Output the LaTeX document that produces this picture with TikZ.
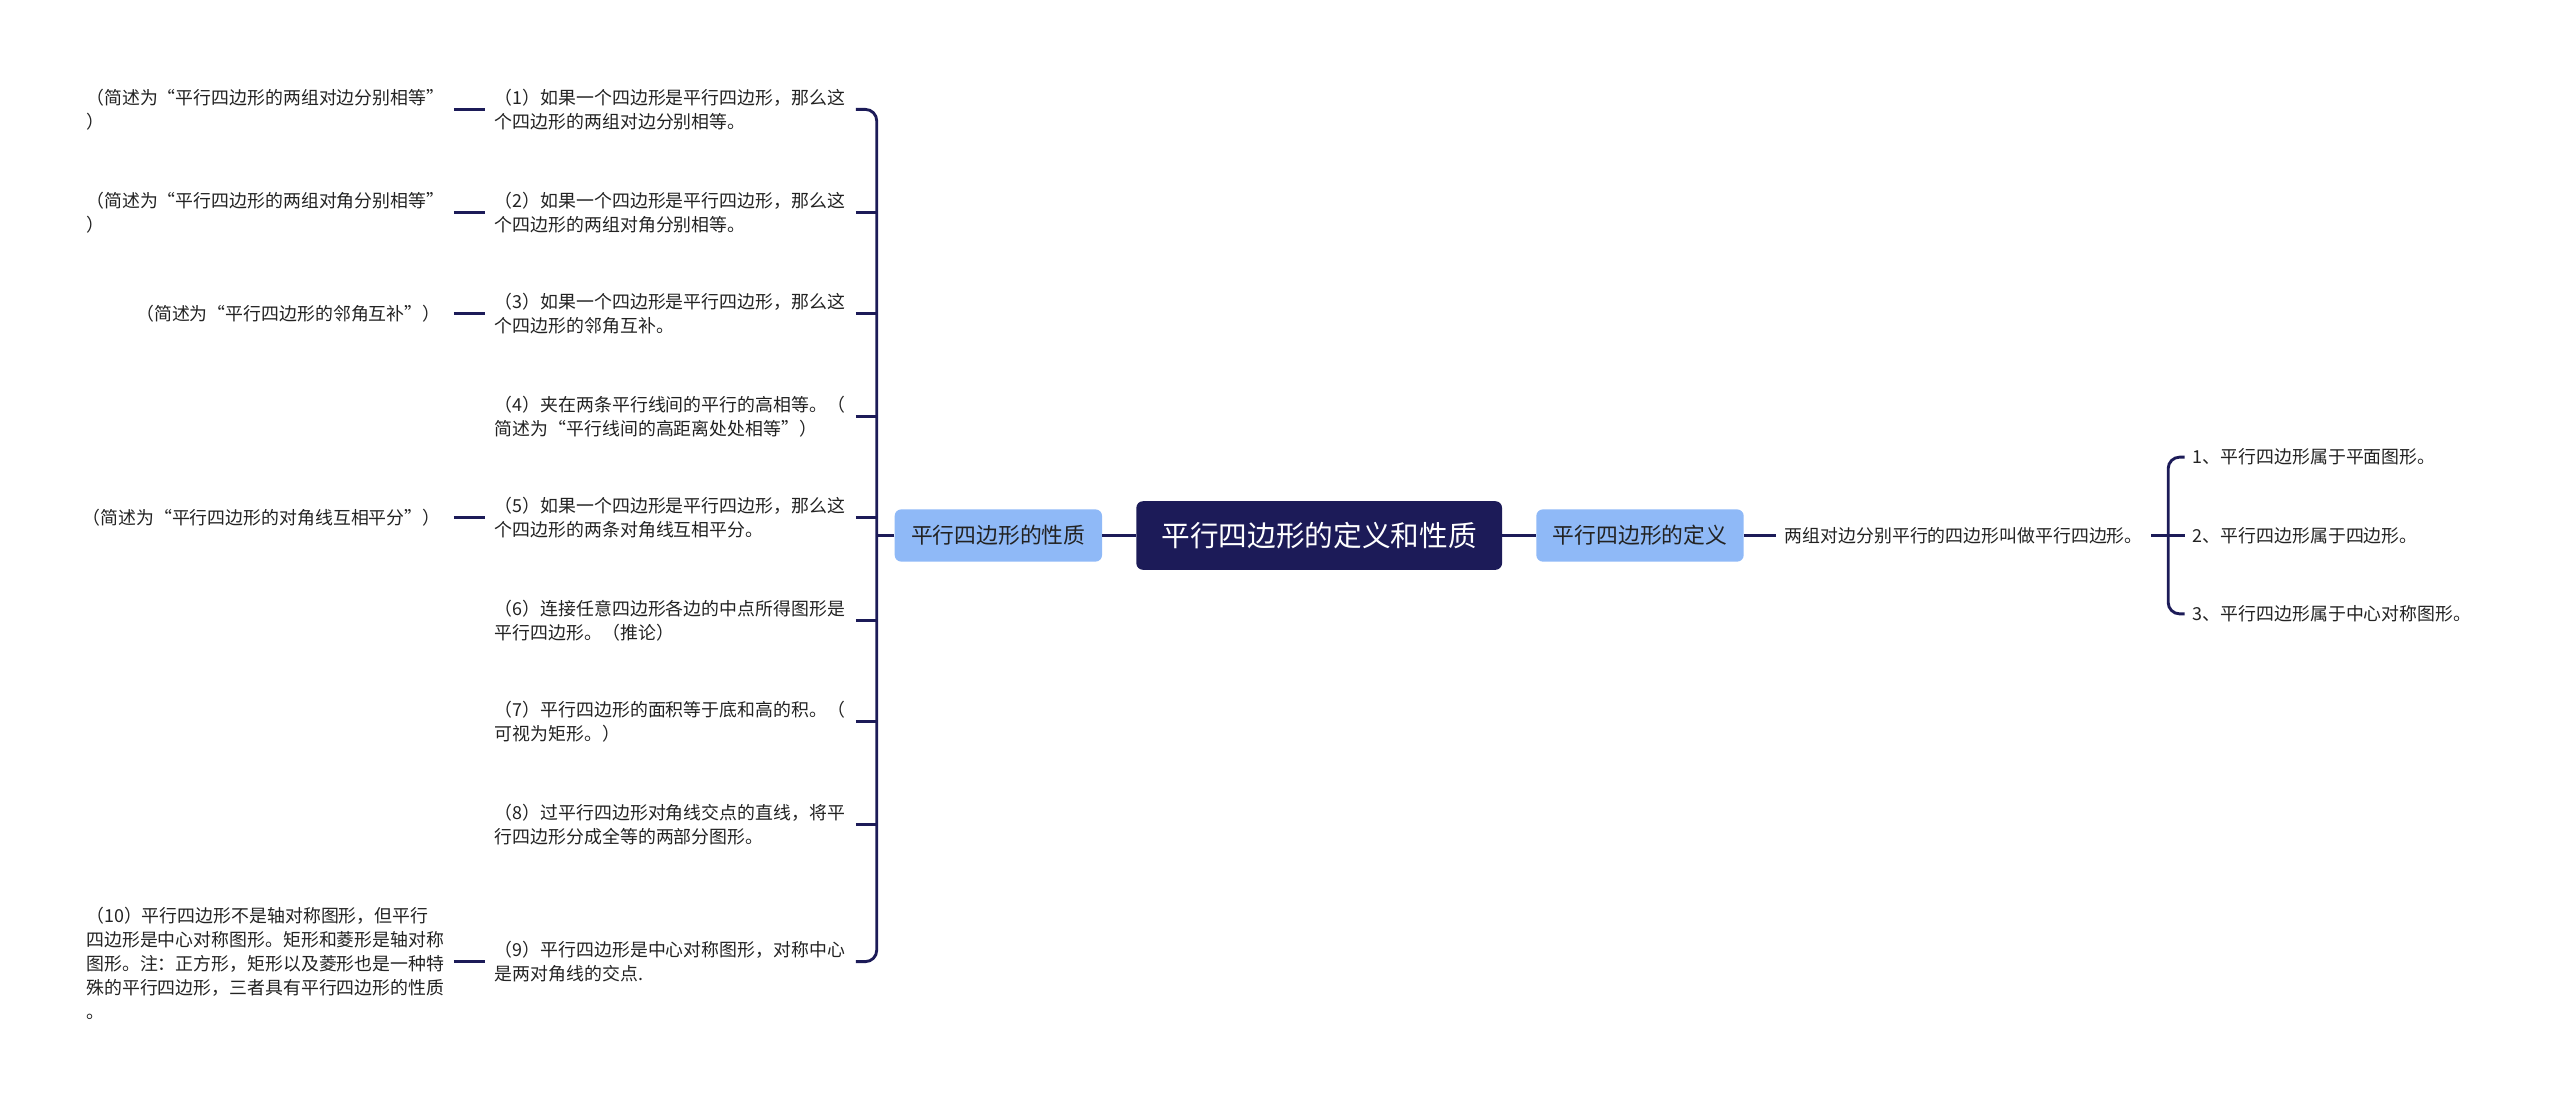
\documentclass[tikz,border=0pt]{standalone}
\usepackage{fontspec}
\setmainfont{Noto Sans CJK SC}
\definecolor{navy}{HTML}{1C1B58}
\definecolor{lblue}{HTML}{8FB9F7}
\definecolor{txt}{HTML}{222222}
\tikzset{
  ln/.style={draw=navy,line width=2.5pt},
  txtnode/.style={font=\fontsize{15.6pt}{21pt}\selectfont,text=txt,inner ysep=2pt},
  item/.style={txtnode,anchor=west,align=left,text width=10.75cm,inner xsep=0.3cm},
  sub/.style={txtnode,anchor=east,align=left,inner xsep=0.4cm},
  subw/.style={txtnode,anchor=east,align=left,text width=10.85cm,inner xsep=0.4cm},
  rt/.style={txtnode,anchor=west,align=left,inner xsep=0.25cm},
  child/.style={fill=lblue,rounded corners=0.2cm,minimum width=6.35cm,minimum height=1.6cm,font=\fontsize{19pt}{22pt}\selectfont,text=txt,inner sep=0pt},
}
\begin{document}
\begin{tikzpicture}[x=0.05cm,y=-0.05cm]
\useasboundingbox (0,0) rectangle (1568,677);
\node[fill=navy,rounded corners=0.2cm,minimum width=11.2cm,minimum height=2.1cm,text=white,font=\fontsize{25pt}{28pt}\selectfont,inner sep=0pt] (C) at (808,328) {平行四边形的定义和性质};
\node[child] (L) at (611.5,328) {平行四边形的性质};
\node[child] (R) at (1004.5,328) {平行四边形的定义};
\draw[ln] (L) -- (C); \draw[ln] (C) -- (R);
% left items
\node[item] (i1) at (297,67) {（1）如果一个四边形是平行四边形，那么这\\个四边形的两组对边分别相等。};
\node[item] (i2) at (297,130) {（2）如果一个四边形是平行四边形，那么这\\个四边形的两组对角分别相等。};
\node[item] (i3) at (297,192) {（3）如果一个四边形是平行四边形，那么这\\个四边形的邻角互补。};
\node[item] (i4) at (297,255) {（4）夹在两条平行线间的平行的高相等。（\\简述为“平行线间的高距离处处相等”）};
\node[item] (i5) at (297,317) {（5）如果一个四边形是平行四边形，那么这\\个四边形的两条对角线互相平分。};
\node[item] (i6) at (297,380) {（6）连接任意四边形各边的中点所得图形是\\平行四边形。（推论）};
\node[item] (i7) at (297,442) {（7）平行四边形的面积等于底和高的积。（\\可视为矩形。）};
\node[item] (i8) at (297,505) {（8）过平行四边形对角线交点的直线，将平\\行四边形分成全等的两部分图形。};
\node[item] (i9) at (297,589) {（9）平行四边形是中心对称图形，对称中心\\是两对角线的交点.};
\coordinate (bx) at (537,0);
\draw[ln,rounded corners=0.35cm] (i1.east) -- (i1.east -| bx) -- (i9.east -| bx) -- (i9.east);
\foreach \n in {i2,i3,i4,i5,i6,i7,i8} \draw[ln] (\n.east) -- (\n.east -| bx);
\draw[ln] (L.west) -- (L.west -| bx);
% sub items
\node[subw] (s1) at (278,67) {（简述为“平行四边形的两组对边分别相等”\\）};
\node[subw] (s2) at (278,130) {（简述为“平行四边形的两组对角分别相等”\\）};
\node[sub] (s3) at (278,192) {（简述为“平行四边形的邻角互补”）};
\node[sub] (s5) at (278,317) {（简述为“平行四边形的对角线互相平分”）};
\node[subw] (s9) at (278,590) {（10）平行四边形不是轴对称图形，但平行\\四边形是中心对称图形。矩形和菱形是轴对称\\图形。注：正方形，矩形以及菱形也是一种特\\殊的平行四边形，三者具有平行四边形的性质\\。};
\draw[ln] (s1.east) -- (i1.west);
\draw[ln] (s2.east) -- (i2.west);
\draw[ln] (s3.east) -- (i3.west);
\draw[ln] (s5.east) -- (i5.west);
\draw[ln] (s9.east |- i9.west) -- (i9.west);
% right
\node[rt] (d) at (1088,328) {两组对边分别平行的四边形叫做平行四边形。};
\draw[ln] (R) -- (d);
\node[rt] (r1) at (1338,280) {1、平行四边形属于平面图形。};
\node[rt] (r2) at (1338,328) {2、平行四边形属于四边形。};
\node[rt] (r3) at (1338,376) {3、平行四边形属于中心对称图形。};
\coordinate (bx2) at (1328,0);
\draw[ln,rounded corners=0.35cm] (r1.west) -- (r1.west -| bx2) -- (r3.west -| bx2) -- (r3.west);
\draw[ln] (d.east) -- (r2.west);
\end{tikzpicture}
\end{document}
